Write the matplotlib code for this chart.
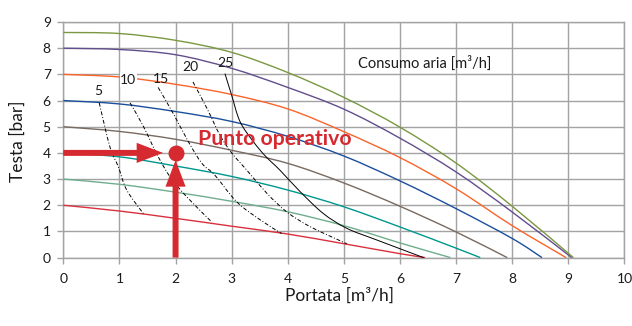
import matplotlib
matplotlib.use("Agg")
import matplotlib.pyplot as plt
from matplotlib.patches import FancyArrowPatch, PathPatch
from matplotlib.path import Path

plt.rcParams['font.family'] = ['Lato', 'DejaVu Sans']

# ---- pump curves (portata m3/h, testa bar) ----
q_p2 = [0, 1, 2, 3, 4, 5, 6, 6.45]
h_p2 = [2.0, 1.78, 1.5, 1.2, 0.9, 0.53, 0.15, 0]
q_p3 = [0, 1, 2, 3, 4, 5, 6, 6.9]
h_p3 = [3.0, 2.8, 2.5, 2.15, 1.75, 1.22, 0.56, 0]
q_p4 = [0, 1, 2, 3, 4, 5, 6, 7, 7.43]
h_p4 = [4.0, 3.85, 3.5, 3.1, 2.58, 1.94, 1.17, 0.36, 0]
q_p5 = [0, 1, 2, 3, 4, 5, 6, 7, 7.91]
h_p5 = [5.0, 4.82, 4.52, 4.1, 3.6, 2.85, 1.96, 0.98, 0]
q_p6 = [0, 1, 2, 3, 4, 5, 6, 7, 8, 8.53]
h_p6 = [6.0, 5.87, 5.58, 5.2, 4.63, 3.88, 2.93, 1.87, 0.73, 0]
q_p7 = [0, 1, 2, 3, 4, 5, 6, 7, 8, 8.96]
h_p7 = [7.0, 6.9, 6.62, 6.23, 5.68, 4.81, 3.82, 2.63, 1.22, 0]
q_p8 = [0, 1, 2, 3, 4, 5, 6, 7, 8, 9.06]
h_p8 = [8.0, 7.95, 7.75, 7.23, 6.5, 5.67, 4.56, 3.27, 1.74, 0]
q_p86 = [0, 1, 2, 3, 4, 5, 6, 7, 8, 9.09]
h_p86 = [8.6, 8.56, 8.3, 7.84, 7.07, 6.12, 4.98, 3.61, 1.96, 0]

pump_colors = ['#d9303c', '#6fae8c', '#00978f', '#776a61',
               '#1a4f9c', '#fa642a', '#634d8d', '#7a9840']

# ---- air consumption curves ----
cons_labels = ['5', '10', '15', '20', '25']
q_c5 = [0.64, 0.83, 0.98, 1.13, 1.43]
h_c5 = [5.91, 4.23, 3.47, 2.58, 1.67]
q_c10 = [1.19, 1.43, 1.66, 1.90, 2.2, 2.65]
h_c10 = [5.91, 5.0, 3.98, 3.09, 2.32, 1.35]
q_c15 = [1.69, 1.96, 2.23, 2.47, 2.7, 3.09, 3.51, 3.89]
h_c15 = [6.5, 5.5, 4.42, 3.6, 3.15, 2.13, 1.44, 0.92]
q_c20 = [2.31, 2.56, 2.79, 3.0, 3.27, 3.63, 3.98, 4.4, 5.05]
h_c20 = [6.71, 5.7, 4.68, 4.0, 3.34, 2.45, 1.75, 1.18, 0.53]
q_c25 = [2.88, 3.0, 3.15, 3.39, 3.6, 3.86, 4.22, 4.63, 5.05, 5.59, 6.42]
h_c25 = [7.03, 6.2, 5.19, 4.42, 3.88, 3.34, 2.52, 1.69, 1.12, 0.67, 0]

# operating point
op_q = 2
op_h = 4

x_ticks = list(range(0, 11))
y_ticks = list(range(0, 10))

red = '#d42a30'
grid_c = '#a3a3a3'


def smooth_path(xs, ys):
    """Smoothed-line rendering (like a spreadsheet 'smoothed line'):
    cubic Bezier segments passing through every data point."""
    pts = list(zip(xs, ys))
    n = len(pts)
    verts = [pts[0]]
    codes = [Path.MOVETO]
    for i in range(n - 1):
        p0 = pts[i - 1] if i > 0 else pts[i]
        p1 = pts[i]
        p2 = pts[i + 1]
        p3 = pts[i + 2] if i + 2 < n else pts[i + 1]
        c1 = (p1[0] + (p2[0] - p0[0]) / 6.0, p1[1] + (p2[1] - p0[1]) / 6.0)
        c2 = (p2[0] - (p3[0] - p1[0]) / 6.0, p2[1] - (p3[1] - p1[1]) / 6.0)
        verts += [c1, c2, p2]
        codes += [Path.CURVE4, Path.CURVE4, Path.CURVE4]
    return Path(verts, codes)


fig = plt.figure(figsize=(6.32, 3.26), dpi=100)
ax = fig.add_axes([0.1002, 0.2098, 0.8879, 0.7227])

ax.set_xlim(0, 10)
ax.set_ylim(0, 9)
ax.set_xticks(x_ticks)
ax.set_yticks(y_ticks)
ax.grid(True, color=grid_c, lw=1.0)
ax.set_axisbelow(True)
for s in ax.spines.values():
    s.set_color(grid_c)
    s.set_linewidth(1.0)
ax.tick_params(axis='both', colors=grid_c, length=4, width=1.0,
               labelcolor='#1a1a1a', labelsize=10)
ax.tick_params(axis='x', pad=7)
ax.tick_params(axis='y', pad=5)

pumps = [(q_p2, h_p2), (q_p3, h_p3), (q_p4, h_p4), (q_p5, h_p5),
         (q_p6, h_p6), (q_p7, h_p7), (q_p8, h_p8), (q_p86, h_p86)]
for (q, h), c in zip(pumps, pump_colors):
    ax.add_patch(PathPatch(smooth_path(q, h), fill=False, edgecolor=c,
                           lw=1.0, zorder=3))

cons = [(q_c5, h_c5), (q_c10, h_c10), (q_c15, h_c15), (q_c20, h_c20)]
for q, h in cons:
    ax.add_patch(PathPatch(smooth_path(q, h), fill=False, edgecolor='black',
                           lw=0.7, linestyle=(0, (4, 2, 1, 2)), zorder=4))
ax.add_patch(PathPatch(smooth_path(q_c25, h_c25), fill=False,
                       edgecolor='black', lw=0.7, zorder=4))

lbl_pos = [(0.62, 6.37), (1.16, 6.78), (1.74, 6.82), (2.27, 7.29), (2.89, 7.44)]
for t, (x, y) in zip(cons_labels, lbl_pos):
    kw = {}
    if t == '10':
        kw['bbox'] = dict(facecolor='white', edgecolor='none', pad=0.5)
    ax.text(x, y, t, fontsize=10, ha='center', va='center', color='#1a1a1a',
            zorder=5, **kw)

ax.text(6.44, 7.44, 'Consumo aria [m³/h]', fontsize=10.5, ha='center',
        va='center', color='#1a1a1a', zorder=5)

# operating point & arrows
style = 'simple,head_length=19,head_width=14.5,tail_width=4.3'
arr_h = FancyArrowPatch(posA=(0, op_h), posB=(op_q, op_h), arrowstyle=style,
                        shrinkA=0, shrinkB=9, color=red, lw=0, zorder=6,
                        clip_on=False)
ax.add_patch(arr_h)
arr_v = FancyArrowPatch(posA=(op_q, 0), posB=(op_q, op_h), arrowstyle=style,
                        shrinkA=0, shrinkB=5.3, color=red, lw=0, zorder=6,
                        clip_on=False)
ax.add_patch(arr_v)
ax.plot([op_q], [op_h], 'o', color=red, markersize=10.5, zorder=7)
ax.text(2.4, 4.3, 'Punto operativo', fontsize=15.3, fontweight='bold',
        color=red, ha='left', va='baseline', zorder=7)

ax.set_xlabel('Portata [m³/h]', fontsize=12.5, color='#1a1a1a')
ax.xaxis.label.set_va('center')
ax.xaxis.set_label_coords(0.493, -0.163)
ax.set_ylabel('Testa [bar]', fontsize=12.5, color='#1a1a1a')
ax.yaxis.label.set_va('center')
ax.yaxis.set_label_coords(-0.081, 0.495)

fig.savefig('out.png', dpi=100)
